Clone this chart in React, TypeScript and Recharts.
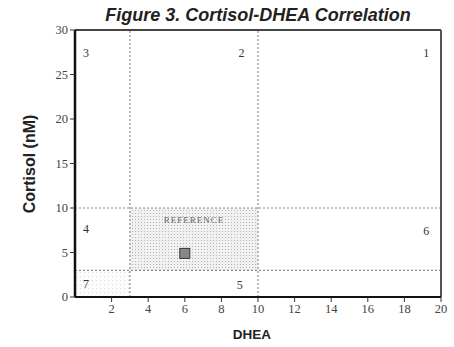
import { ScatterChart, Scatter, XAxis, YAxis, ReferenceLine, ReferenceArea, ReferenceDot } from 'recharts';

const xTicks = [2, 4, 6, 8, 10, 12, 14, 16, 18, 20];
const yTicks = [0, 5, 10, 15, 20, 25, 30];
const dheaCuts = [3, 10];
const cortisolCuts = [3, 10];

const zoneLabels = [
    { name: '1', x: 19.2, y: 27.5 },
    { name: '2', x: 9.1, y: 27.5 },
    { name: '3', x: 0.6, y: 27.5 },
    { name: '4', x: 0.6, y: 7.7 },
    { name: '5', x: 9.0, y: 1.4 },
    { name: '6', x: 19.2, y: 7.5 },
    { name: '7', x: 0.6, y: 1.5 },
];

const patientPoint = [{ x: 6, y: 4.9 }];

const sans = 'Liberation Sans, Arial, sans-serif';
const serifTick = { fill: '#444', fontSize: 12.5, fontFamily: 'Liberation Serif, serif' };

export default function App() {
    return (
        <div style={{ position: 'absolute', left: 0, top: 0, width: 454, height: 347, background: '#fff' }}>
            <ScatterChart width={454} height={347} margin={{ top: 30, right: 13, bottom: 20, left: 15 }}>
                <defs>
                    <pattern id="dots" width="3" height="3" patternUnits="userSpaceOnUse">
                        <rect width="3" height="3" fill="#f1f1f1" />
                        <rect width="1" height="1" fill="#b5b5b5" />
                    </pattern>
                    <pattern id="dotsLight" width="4" height="4" patternUnits="userSpaceOnUse">
                        <rect width="4" height="4" fill="#fcfcfc" />
                        <rect width="1" height="1" fill="#dadada" />
                    </pattern>
                </defs>
                <text x={258} y={21} textAnchor="middle" fontFamily={sans}
                    fontWeight="bold" fontStyle="italic" fontSize={18} fill="#222">
                    Figure 3.  Cortisol-DHEA Correlation
                </text>
                <text x={35} y={164} transform="rotate(-90 35 164)" textAnchor="middle" fontFamily={sans}
                    fontWeight="bold" fontSize={16} fill="#222">
                    Cortisol (nM)
                </text>
                <XAxis type="number" dataKey="x" domain={[0, 20]} ticks={xTicks} interval={0}
                    axisLine={{ stroke: '#111', strokeWidth: 2 }} tickLine={{ stroke: '#333' }} tickSize={5}
                    tick={serifTick} height={30}
                    label={{ value: 'DHEA', position: 'insideBottom', offset: -12, dx: -6, fill: '#222', fontSize: 13.5,
                        fontWeight: 'bold', fontFamily: sans }} />
                <YAxis type="number" dataKey="y" domain={[0, 30]} ticks={yTicks} interval={0} width={60}
                    axisLine={{ stroke: '#111', strokeWidth: 2.5 }} tickLine={{ stroke: '#333' }} tickSize={5}
                    tick={serifTick} />
                <ReferenceArea x1={0} x2={dheaCuts[0]} y1={0} y2={cortisolCuts[0]} fill="url(#dotsLight)" fillOpacity={1} stroke="none" />
                <ReferenceArea x1={dheaCuts[0]} x2={dheaCuts[1]} y1={cortisolCuts[0]} y2={cortisolCuts[1]}
                    fill="url(#dots)" fillOpacity={1} stroke="none"
                    label={{ value: 'REFERENCE', position: 'insideTop', offset: 9, fill: '#666', fontSize: 9,
                        letterSpacing: 1, fontFamily: 'Liberation Serif, serif' }} />
                {dheaCuts.map((c) => (
                    <ReferenceLine key={'x' + c} x={c} stroke="#8a8a8a" strokeDasharray="2 2" strokeWidth={1.2} />
                ))}
                {cortisolCuts.map((c) => (
                    <ReferenceLine key={'y' + c} y={c} stroke="#8a8a8a" strokeDasharray="2 2" strokeWidth={1.2} />
                ))}
                <ReferenceLine y={30} stroke="#444" strokeWidth={2} />
                <ReferenceLine x={20} stroke="#555" strokeWidth={2} />
                {zoneLabels.map((z) => (
                    <ReferenceDot key={z.name} x={z.x} y={z.y} r={0} fill="none" stroke="none"
                        label={{ value: z.name, position: 'center', fill: '#333', fontSize: 12, fontFamily: 'Liberation Serif, serif' }} />
                ))}
                <Scatter data={patientPoint} isAnimationActive={false}
                    shape={(p: any) => (
                        <rect x={p.cx - 5} y={p.cy - 5} width={10} height={10} fill="#888" stroke="#333" strokeWidth={1} />
                    )} />
            </ScatterChart>
        </div>
    );
}
